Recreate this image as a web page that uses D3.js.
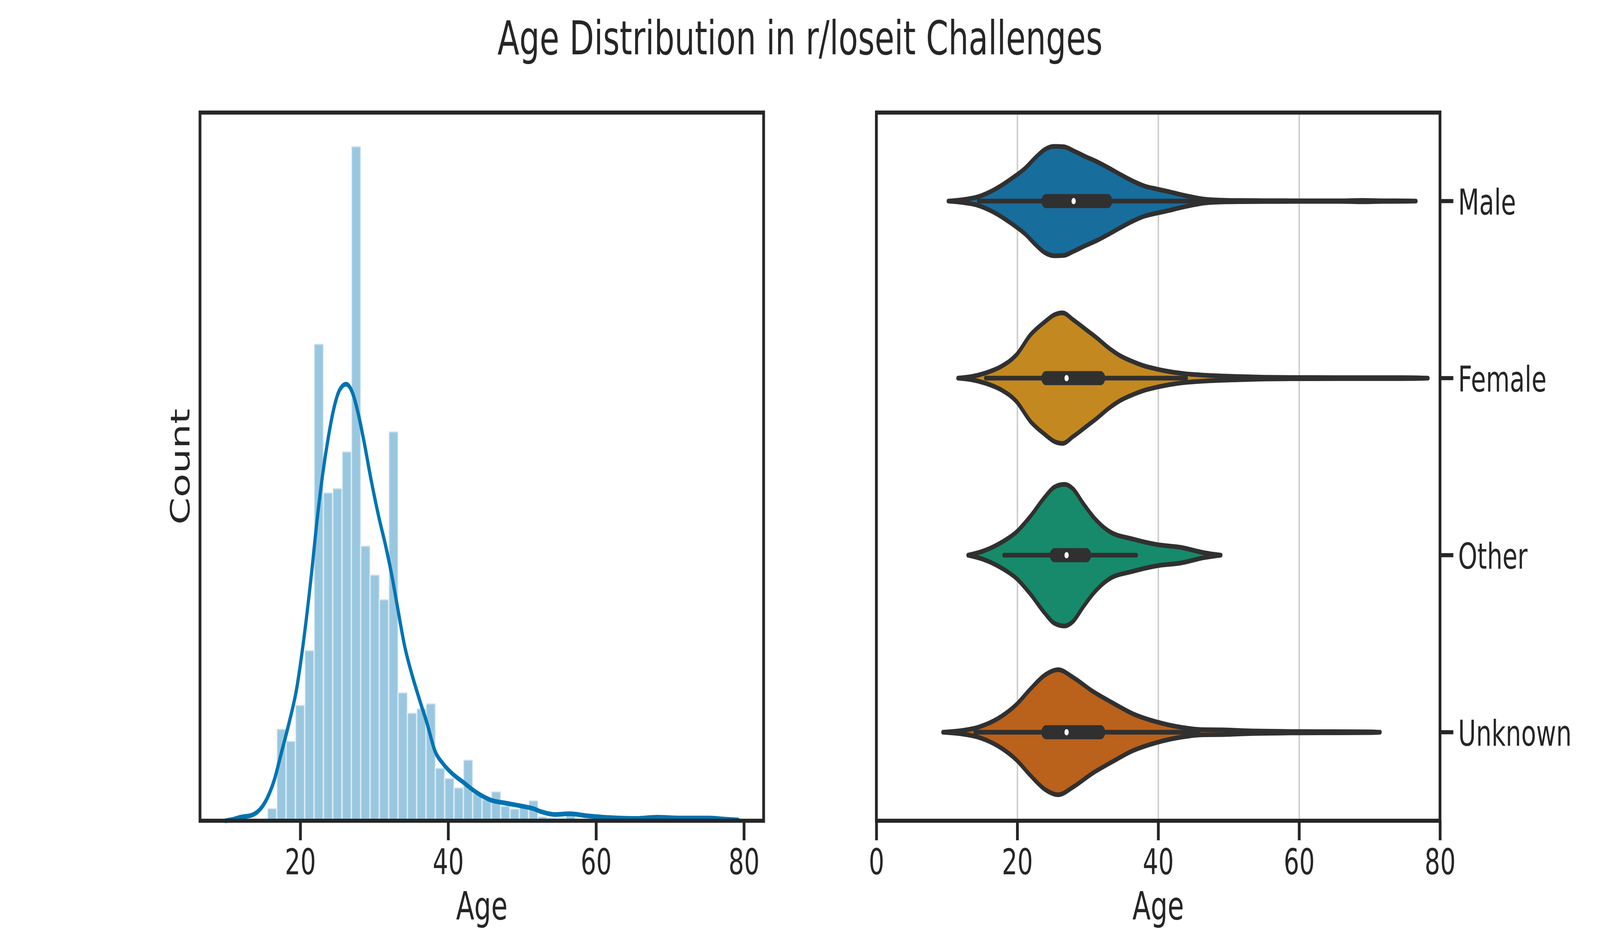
<!DOCTYPE html>
<html>
<head>
<meta charset="utf-8">
<script src="https://cdn.jsdelivr.net/npm/d3@7"></script>
<style>
  html, body { margin: 0; padding: 0; background: #fff; overflow: hidden; }
  svg { display: block; }
</style>
</head>
<body>
<svg id="chart"></svg>
<script>
'use strict'

const title = 'Age Distribution in r/loseit Challenges'

// histogram bins (distplot), heights
const binStart = 14.3
const binWidth = 1.262
const binCounts = [
  0.25, 3.2, 23.5, 20.4, 29.6, 43.6, 121.9, 83.9, 85.0, 94.4,
  172.4, 70.3, 62.9, 56.6, 99.5, 32.8, 27.6, 28.7, 30.0, 13.5,
  10.9, 8.5, 15.6, 7.0, 5.5, 7.5, 3.8, 3.1, 3.4, 5.2,
  1.1, 0.8, 0.6, 2.3, 0.5, 0.3, 0.6, 0.2, 0.3, 0.4,
  0.2, 0.3, 0.3, 0.2, 0.2, 0.3, 0.2, 0.2
]

// kde line
const kdeAges = [9.9, 11.0, 11.9, 13.4, 14.4, 15.45, 16.46, 17.47, 18.48, 19.49,
  20.5, 21.5, 22.26, 23.0, 23.78, 24.54, 25.29, 26.18, 27.06, 27.82,
  28.58, 29.59, 30.6, 31.6, 32.36, 33.12, 34.13, 35.14, 36.15, 37.16,
  38.2, 39.3, 40.7, 42.0, 43.7, 45.75, 47.8, 49.8, 51.5, 52.6,
  54.4, 56.5, 58.6, 61, 63, 65.5, 68.2, 71.4, 75.3, 77.5, 79.2]
const kdeValues = [0, 0.4, 0.9, 1.4, 2.6, 5.5, 10.3, 17.6, 25, 33.6,
  46.8, 62.9, 76.7, 88.2, 97.9, 105.4, 110, 111.6, 109.4, 104.2,
  97.3, 87, 77.8, 69.8, 62.9, 54.9, 44.5, 37.1, 30.8, 24.8,
  17.9, 14.6, 11.8, 9.9, 7.4, 5.3, 4.5, 3.8, 3.1, 2.3,
  1.6, 1.8, 1.3, 0.9, 0.7, 0.6, 0.9, 0.7, 0.7, 0.4, 0.2]

// violins: [age, relative density]
const genders = ['Male', 'Female', 'Other', 'Unknown']
const genderColors = ['#176d9c', '#c38820', '#168a6a', '#ba611b']
const maleViolin = [[10.2, 0], [12, 1.7], [14.44, 6.1], [16.46, 14.7], [19.17, 31.7], [21.2, 47.2],
  [22.55, 61.1], [23.9, 72.8], [25.25, 77.2], [26.6, 76.7], [27.96, 71.1], [29.65, 63],
  [31.3, 55.6], [33.0, 46.7], [34.7, 37.2], [36.4, 28.3], [38.1, 21.1], [39.8, 17],
  [41.5, 13.3], [43.2, 9.2], [44.9, 5.6], [46.5, 2.8], [49, 1.3], [51.6, 0.8], [55, 0.6],
  [58, 0.5], [62, 0.4], [66, 0.4], [69, 1.0], [72, 0.4], [75, 0.3], [76.6, 0]]
const femaleViolin = [[11.57, 0], [13.5, 2.2], [15.45, 7.1], [17.8, 17], [19.85, 32.6], [21.87, 61.1],
  [23.9, 79.4], [25.25, 89.4], [26.43, 92.2], [27.96, 82.2], [30.0, 66.7], [31.3, 56.7],
  [33.0, 42.5], [34.7, 31.1], [36.4, 23.3], [38.1, 17], [39.8, 12.8], [41.5, 9.4],
  [44, 6], [46.5, 4.2], [51.6, 2.2], [55, 1.2], [58, 0.9], [62, 0.8], [70, 0.7],
  [76, 0.6], [78.3, 0]]
const otherViolin = [[13.0, 0], [15.1, 5.6], [17.8, 18.3], [19.85, 32.5], [21.87, 55], [23.9, 81.9],
  [25.25, 96.1], [26.7, 100], [27.96, 93.1], [29.3, 73.9], [31.0, 51.7], [33.0, 33.9],
  [36.4, 22.8], [39.8, 15], [43.2, 11], [46.5, 3.5], [48.9, 0]]
const unknownViolin = [[9.44, 0], [12, 2.2], [14.44, 7], [17.8, 22.8], [19.85, 38.9], [21.87, 61.1],
  [23.9, 80.6], [25.8, 88.3], [27.96, 77.2], [30.66, 58.1], [33.4, 42.2], [36.4, 26.1],
  [39.8, 14.5], [43.2, 7], [46.5, 3.6], [49.25, 3.3], [53.3, 1.8], [57.3, 1.2], [60, 0.9],
  [65, 0.8], [70, 0.6], [71.5, 0]]

// inner box per gender
const whiskerLow = [14.5, 15.5, 18.1, 14.0]
const quartile1 = [24.1, 24.1, 25.3, 24.1]
const medians = [28.0, 27.0, 27.0, 27.0]
const quartile3 = [32.8, 31.8, 29.8, 31.8]
const whiskerHigh = [46.0, 44.0, 36.9, 45.8]

const histTicks = [20, 40, 60, 80]
const violinTicks = [0, 20, 40, 60, 80]
const gridTicks = [20, 40, 60]

const figWidth = 6000
const figHeight = 2400
const ink = '#262626'
const gray = '#303030'
const plotTop = 288
const plotBottom = 2100
const spineWidth = 10.4
const tickLen = 50
const tickFont = 91.7
const labelFont = 100
const lineWidth = 12

// draw in figure units and fit them to the window we are given
const svg = d3.select('#chart')
  .attr('viewBox', `0 0 ${figWidth} ${figHeight}`)
  .attr('preserveAspectRatio', 'none')
  .attr('width', window.innerWidth || figWidth)
  .attr('height', window.innerHeight || figHeight)
  .attr('font-family', "'DejaVu Sans', sans-serif")
  .style('color', ink)

svg.append('rect')
  .attr('width', figWidth)
  .attr('height', figHeight)
  .attr('fill', '#fff')

svg.append('text')
  .attr('x', figWidth / 2)
  .attr('y', 139)
  .attr('text-anchor', 'middle')
  .attr('font-size', 120)
  .attr('fill', ink)
  .text(title)

function styleAxis (g) {
  g.attr('font-size', tickFont)
    .attr('font-family', "'DejaVu Sans', sans-serif")
  g.select('.domain').remove()
  g.selectAll('.tick line')
    .attr('stroke', ink)
    .attr('stroke-width', spineWidth)
  g.selectAll('.tick text').attr('fill', ink)
}

function drawFrame (left, right) {
  svg.append('rect')
    .attr('x', left)
    .attr('y', plotTop)
    .attr('width', right - left)
    .attr('height', plotBottom - plotTop)
    .attr('fill', 'none')
    .attr('stroke', ink)
    .attr('stroke-width', spineWidth)
}

function xLabel (cx) {
  svg.append('text')
    .attr('x', cx)
    .attr('y', 2353)
    .attr('text-anchor', 'middle')
    .attr('font-size', labelFont)
    .attr('fill', ink)
    .text('Age')
}

function drawHistogram () {
  const left = 750
  const right = 2863.6
  const ext = d3.extent(kdeAges)
  const pad = (ext[1] - ext[0]) * 0.05
  const x = d3.scaleLinear().domain([ext[0] - pad, ext[1] + pad]).range([left, right])
  const y = d3.scaleLinear().domain([0, d3.max(binCounts) * 1.05]).range([plotBottom, plotTop])

  svg.append('g')
    .selectAll('rect')
    .data(binCounts)
    .join('rect')
    .attr('x', (d, i) => x(binStart + i * binWidth))
    .attr('width', x(binStart + binWidth) - x(binStart))
    .attr('y', d => y(d))
    .attr('height', d => y(0) - y(d))
    .attr('fill', '#99c7e0')
    .attr('stroke', '#fff')
    .attr('stroke-opacity', 0.45)
    .attr('stroke-width', 6)

  const line = d3.line()
    .x(d => x(d[0]))
    .y(d => y(d[1]))
    .curve(d3.curveMonotoneX)

  svg.append('path')
    .datum(d3.zip(kdeAges, kdeValues))
    .attr('d', line)
    .attr('fill', 'none')
    .attr('stroke', '#0173b2')
    .attr('stroke-width', lineWidth)
    .attr('stroke-linecap', 'round')
    .attr('stroke-linejoin', 'round')

  svg.append('g')
    .attr('transform', `translate(0,${plotBottom})`)
    .call(d3.axisBottom(x).tickValues(histTicks).tickSize(tickLen).tickPadding(22.4))
    .call(styleAxis)

  drawFrame(left, right)
  xLabel((left + right) / 2)

  svg.append('text')
    .attr('transform', `translate(711,${(plotTop + plotBottom) / 2}) rotate(-90)`)
    .attr('text-anchor', 'middle')
    .attr('font-size', labelFont)
    .attr('fill', ink)
    .text('Count')
}

function drawViolins () {
  const left = 3286.4
  const right = 5400
  const x = d3.scaleLinear().domain([0, 80]).range([left, right])
  const yb = d3.scaleBand().domain(genders).range([plotTop, plotBottom])
  const violins = [maleViolin, femaleViolin, otherViolin, unknownViolin]
  const dens = d3.scaleLinear()
    .domain([0, d3.max(violins.flat(), d => d[1])])
    .range([0, yb.bandwidth() * 0.4])

  svg.append('g')
    .attr('transform', `translate(0,${plotBottom})`)
    .call(d3.axisBottom(x).tickValues(gridTicks).tickSize(-(plotBottom - plotTop)).tickFormat(''))
    .call(g => g.select('.domain').remove())
    .call(g => g.selectAll('.tick line').attr('stroke', '#cccccc').attr('stroke-width', 5.5))

  genders.forEach((name, i) => {
    const cy = yb(name) + yb.bandwidth() / 2
    const area = d3.area()
      .x(d => x(d[0]))
      .y0(d => cy - dens(d[1]))
      .y1(d => cy + dens(d[1]))
      .curve(d3.curveMonotoneX)
    const g = svg.append('g')

    g.append('path')
      .datum(violins[i])
      .attr('d', area)
      .attr('fill', genderColors[i])
      .attr('stroke', gray)
      .attr('stroke-width', lineWidth)
      .attr('stroke-linejoin', 'round')

    g.append('line')
      .attr('x1', x(whiskerLow[i]))
      .attr('x2', x(whiskerHigh[i]))
      .attr('y1', cy)
      .attr('y2', cy)
      .attr('stroke', gray)
      .attr('stroke-width', lineWidth)
      .attr('stroke-linecap', 'round')

    g.append('line')
      .attr('x1', x(quartile1[i]))
      .attr('x2', x(quartile3[i]))
      .attr('y1', cy)
      .attr('y2', cy)
      .attr('stroke', gray)
      .attr('stroke-width', lineWidth * 3)
      .attr('stroke-linecap', 'round')

    g.append('circle')
      .attr('cx', x(medians[i]))
      .attr('cy', cy)
      .attr('r', 8)
      .attr('fill', '#fff')
  })

  svg.append('g')
    .attr('transform', `translate(0,${plotBottom})`)
    .call(d3.axisBottom(x).tickValues(violinTicks).tickSize(tickLen).tickPadding(22.4))
    .call(styleAxis)

  svg.append('g')
    .attr('transform', `translate(${right},0)`)
    .call(d3.axisRight(yb).tickSize(tickLen).tickPadding(18))
    .call(styleAxis)
    .call(g => g.selectAll('.tick text').attr('dy', '0.38em'))

  drawFrame(left, right)
  xLabel((left + right) / 2)
}

drawHistogram()
drawViolins()
</script>
</body>
</html>
